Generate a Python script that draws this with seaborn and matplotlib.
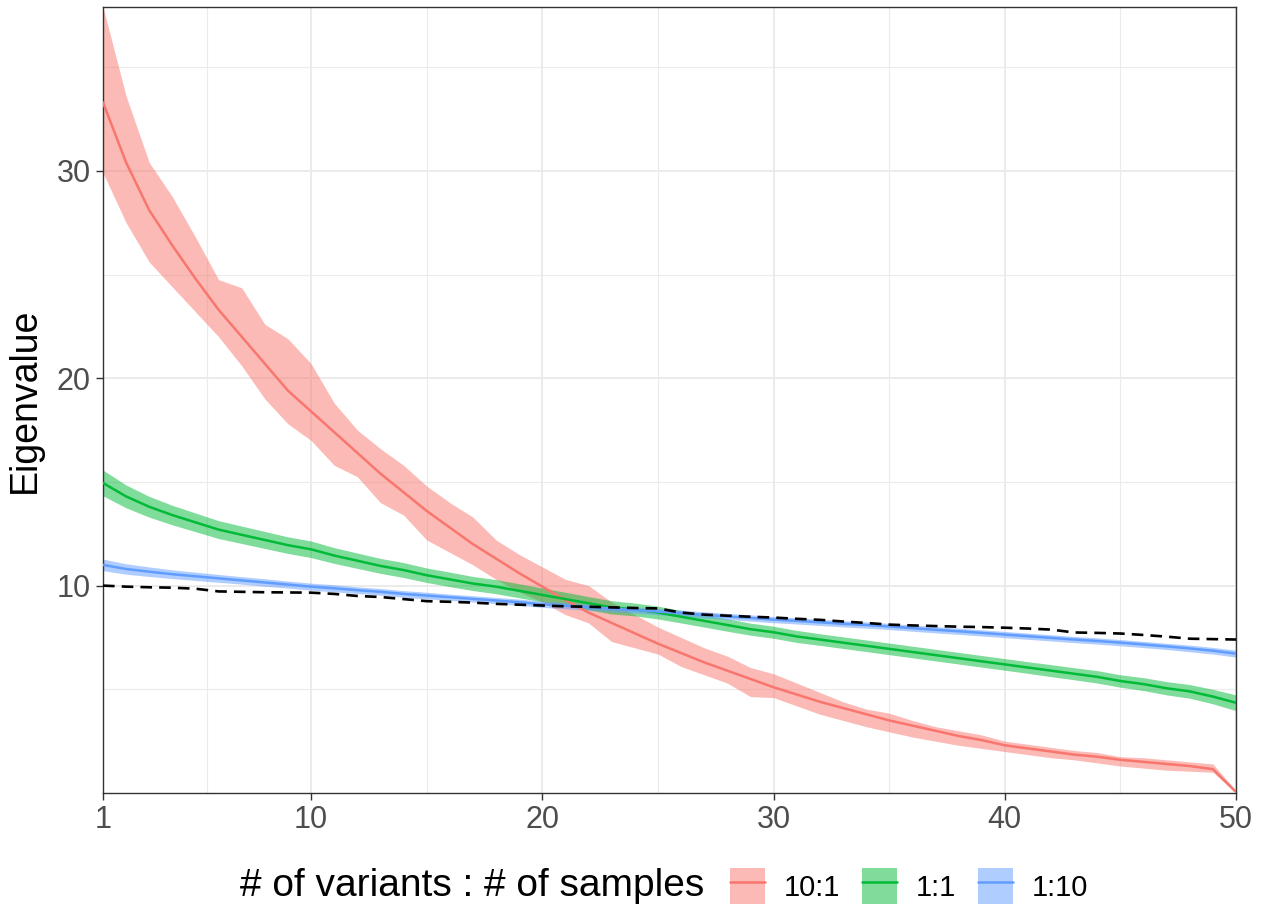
import matplotlib
matplotlib.use("Agg")
import matplotlib.pyplot as plt
from matplotlib.patches import Patch
from matplotlib.lines import Line2D
from matplotlib.ticker import FixedLocator
import seaborn as sns
import pandas as pd

# component index
rank = list(range(1, 51))

# 10:1 ratio (mean, lower, upper)
red_mean = [33.3, 30.4, 28.1, 26.4, 24.8, 23.3, 22.0, 20.7, 19.4, 18.4,
            17.4, 16.4, 15.4, 14.5, 13.6, 12.8, 12.0, 11.3, 10.6, 9.95,
            9.3, 8.7, 8.2, 7.7, 7.2, 6.75, 6.3, 5.9, 5.5, 5.1,
            4.75, 4.4, 4.1, 3.8, 3.5, 3.25, 3.0, 2.75, 2.55, 2.3,
            2.15, 2.0, 1.85, 1.75, 1.6, 1.5, 1.4, 1.3, 1.15, 0.05]
red_hi = [37.9, 33.6, 30.4, 28.75, 26.8, 24.75, 24.36, 22.6, 21.9, 20.7,
          18.8, 17.5, 16.6, 15.8, 14.8, 14.0, 13.3, 12.2, 11.5, 10.9,
          10.3, 10.0, 9.2, 8.6, 8.0, 7.5, 7.0, 6.6, 6.05, 5.75,
          5.3, 4.85, 4.4, 4.05, 3.85, 3.5, 3.2, 3.0, 2.8, 2.5,
          2.35, 2.2, 2.05, 1.95, 1.75, 1.7, 1.6, 1.5, 1.4, 0.1]
red_lo = [29.9, 27.5, 25.6, 24.4, 23.2, 22.0, 20.6, 19.0, 17.8, 17.0,
          15.8, 15.25, 14.0, 13.4, 12.2, 11.6, 11.0, 10.3, 9.7, 9.2,
          8.6, 8.2, 7.3, 7.0, 6.7, 6.1, 5.7, 5.3, 4.65, 4.6,
          4.2, 3.8, 3.5, 3.2, 2.95, 2.7, 2.5, 2.3, 2.15, 2.0,
          1.85, 1.7, 1.6, 1.45, 1.3, 1.2, 1.1, 1.05, 1.0, 0.0]

# 1:1 ratio (mean, half width of band)
green_mean = [14.95, 14.3, 13.8, 13.4, 13.05, 12.7, 12.45, 12.2, 11.95, 11.75,
              11.45, 11.2, 10.95, 10.75, 10.5, 10.3, 10.1, 9.95, 9.75, 9.55,
              9.35, 9.15, 8.95, 8.85, 8.7, 8.5, 8.3, 8.1, 7.9, 7.75,
              7.55, 7.4, 7.25, 7.1, 6.95, 6.8, 6.65, 6.5, 6.35, 6.2,
              6.05, 5.9, 5.75, 5.6, 5.4, 5.25, 5.05, 4.9, 4.65, 4.35]
green_half = [0.62, 0.55, 0.5, 0.47, 0.45, 0.43, 0.42, 0.41, 0.4, 0.4,
              0.38, 0.37, 0.36, 0.36, 0.35, 0.35, 0.34, 0.34, 0.34, 0.33,
              0.33, 0.32, 0.32, 0.31, 0.31, 0.3, 0.3, 0.3, 0.29, 0.29,
              0.29, 0.28, 0.28, 0.28, 0.28, 0.28, 0.28, 0.28, 0.28, 0.28,
              0.28, 0.29, 0.29, 0.3, 0.3, 0.31, 0.32, 0.33, 0.35, 0.38]

# 1:10 ratio (mean, half width of band)
blue_mean = [11.0, 10.8, 10.67, 10.55, 10.45, 10.35, 10.25, 10.15, 10.05, 9.95,
             9.87, 9.78, 9.7, 9.6, 9.52, 9.44, 9.36, 9.28, 9.2, 9.1,
             9.03, 8.96, 8.89, 8.82, 8.75, 8.67, 8.59, 8.51, 8.44, 8.36,
             8.3, 8.23, 8.16, 8.1, 8.03, 7.95, 7.87, 7.8, 7.72, 7.64,
             7.56, 7.48, 7.4, 7.33, 7.25, 7.16, 7.07, 6.97, 6.86, 6.72]
blue_half = [0.28, 0.25, 0.23, 0.21, 0.2, 0.19, 0.18, 0.18, 0.17, 0.17,
             0.17, 0.16, 0.16, 0.16, 0.16, 0.15, 0.15, 0.15, 0.15, 0.15,
             0.15, 0.15, 0.15, 0.15, 0.15, 0.15, 0.15, 0.15, 0.15, 0.15,
             0.15, 0.15, 0.15, 0.15, 0.15, 0.15, 0.15, 0.15, 0.15, 0.15,
             0.15, 0.15, 0.15, 0.15, 0.15, 0.15, 0.15, 0.16, 0.16, 0.17]

# null (dashed) eigenvalues
null_vals = [10.0, 9.95, 9.92, 9.9, 9.85, 9.72, 9.7, 9.68, 9.67, 9.66,
             9.6, 9.5, 9.45, 9.35, 9.25, 9.22, 9.18, 9.12, 9.08, 9.04,
             9.0, 8.98, 8.95, 8.92, 8.9, 8.7, 8.6, 8.55, 8.5, 8.46,
             8.4, 8.35, 8.27, 8.2, 8.12, 8.08, 8.05, 8.02, 8.0, 7.97,
             7.93, 7.88, 7.74, 7.72, 7.69, 7.62, 7.54, 7.44, 7.42, 7.4]

ratios = ["10:1", "1:1", "1:10"]
colors = ["#F8766D", "#00BA38", "#619CFF"]

x_ticks = [1, 10, 20, 30, 40, 50]
y_ticks = [10, 20, 30]

sns.set_theme(style="white")
plt.rcParams["font.family"] = ["Liberation Sans", "DejaVu Sans"]

bands = {
    "10:1": (red_mean, red_lo, red_hi),
    "1:1": (green_mean,
            [m - h for m, h in zip(green_mean, green_half)],
            [m + h for m, h in zip(green_mean, green_half)]),
    "1:10": (blue_mean,
             [m - h for m, h in zip(blue_mean, blue_half)],
             [m + h for m, h in zip(blue_mean, blue_half)]),
}

rows = []
for r in ratios:
    for i, v in zip(rank, bands[r][0]):
        rows.append({"rank": i, "eigen": v, "ratio": r})
df = pd.DataFrame(rows)
df_null = pd.DataFrame({"rank": rank, "eigen": null_vals})

fig = plt.figure(figsize=(12.62, 9.11), dpi=100)
ax = fig.add_axes([103 / 1262, 1 - 793 / 911, (1236 - 103) / 1262, (793 - 7) / 911])

for r, c in zip(ratios, colors):
    _, lo, hi = bands[r]
    ax.fill_between(rank, lo, hi, color=c, alpha=0.5, linewidth=0, zorder=2)

sns.lineplot(data=df, x="rank", y="eigen", hue="ratio", hue_order=ratios,
             palette=colors, linewidth=1.8, legend=False, ax=ax, zorder=3)
sns.lineplot(data=df_null, x="rank", y="eigen", color="black", linewidth=1.9,
             dashes=False, ax=ax, zorder=4)
ax.lines[-1].set_dashes((4.4, 2.7))

ax.set_xlim(1, 50)
ax.set_ylim(min(red_lo), max(red_hi))
ax.xaxis.set_major_locator(FixedLocator(x_ticks))
ax.yaxis.set_major_locator(FixedLocator(y_ticks))
ax.xaxis.set_minor_locator(FixedLocator([5.5, 15, 25, 35, 45]))
ax.yaxis.set_minor_locator(FixedLocator([5, 15, 25, 35]))
ax.grid(True, which="major", color="#EBEBEB", linewidth=1.4, zorder=0)
ax.grid(True, which="minor", color="#EBEBEB", linewidth=0.8, zorder=0)
ax.set_axisbelow(True)

ax.tick_params(axis="both", which="major", length=5, width=1, color="#333333",
               labelsize=22, labelcolor="#4D4D4D", direction="out",
               bottom=True, left=True, pad=4)
ax.tick_params(axis="both", which="minor", length=0)
for s in ax.spines.values():
    s.set_color("#333333")
    s.set_linewidth(1.0)

ax.set_xlabel("")
ax.set_ylabel("Eigenvalue", fontsize=27, color="black", labelpad=10)

handles = [(Patch(facecolor=c, alpha=0.5, edgecolor="none"),
            Line2D([], [], color=c, linewidth=1.8)) for c in colors]
fig.text(240 / 1262, 1 - 886 / 911, "# of variants : # of samples",
         fontsize=28, va="center", ha="left", color="black")
leg = fig.legend(handles, ratios, loc="center left",
                 bbox_to_anchor=(730 / 1262, 1 - 886 / 911), ncol=3, frameon=False,
                 fontsize=21, handlelength=1.2, handleheight=1.5,
                 handletextpad=0.65, columnspacing=0.75, borderpad=0, borderaxespad=0)
for t in leg.get_texts():
    t.set_color("black")

fig.savefig("out.png", dpi=100)
